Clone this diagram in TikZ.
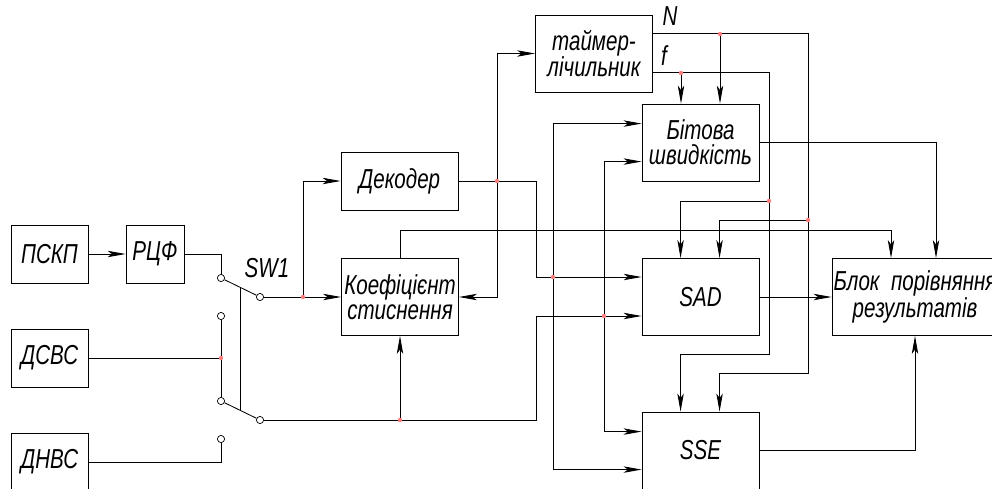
\documentclass[tikz,border=0pt]{standalone}
\usepackage{fontspec}
\newfontfamily\gost{Liberation Sans}[FakeStretch=0.75]
\usetikzlibrary{arrows.meta,calc}
\definecolor{juncred}{RGB}{255,125,125}

\begin{document}
\begin{tikzpicture}[
    x=0.025cm, y=-0.025cm,
    every node/.style={font=\gost\itshape\fontsize{19.5}{18}\selectfont},
    blk/.style={draw, line width=0.6pt, align=center, inner sep=0pt,
        minimum width=2.925cm, minimum height=1.925cm},
    smallblk/.style={blk, minimum width=1.925cm, minimum height=1.45cm},
    contact/.style={circle, draw, fill=white, inner sep=0pt, minimum size=0.18cm, line width=0.5pt},
    wire/.style={line width=0.6pt},
    arr/.style={wire, -{Stealth[length=4.5mm,width=1.6mm,inset=1.1mm]}}
]
\useasboundingbox (0,0) rectangle (992,488);
\clip (0,0) rectangle (992,488);

\node[smallblk] (pskp) at (49.5,254) {ПСКП};
\node[smallblk, minimum width=1.45cm] (rcf) at (155,254) {РЦФ};
\node[smallblk] (dsvs) at (49.5,358) {ДСВС};
\node[smallblk] (dnvs) at (49.5,462) {ДНВС};

\node[contact] (s1) at (221,278) {};
\node[contact] (s2) at (221,316) {};
\node[contact] (s3) at (221,401) {};
\node[contact] (s4) at (221,439) {};
\node[contact] (sa) at (260,297) {};
\node[contact] (sb) at (260,420) {};
\node (sw) at (267,268) {SW1};

\node[blk, minimum height=1.45cm] (dec) at (399.5,181) {Декодер};
\node[blk] (kst) at (400,297) {Коефіцієнт\\стиснення};
\node[blk] (tim) at (594,53.5) {таймер-\\лічильник};
\node[blk] (bit) at (700.5,142.5) {Бітова\\швидкість};
\node[blk] (sad) at (700.5,297) {SAD};
\node[blk] (sse) at (700.5,450.5) {SSE};
\node[blk, minimum width=4.15cm] (blok) at (915,297) {Блок~ порівняння\\результатів};
\node (lN) at (670,16) {N};
\node (lf) at (664,56) {f};

\coordinate (jd) at (221,358);
\coordinate (j1) at (303,297);
\coordinate (j2) at (400,420);
\coordinate (j3) at (497,181);
\coordinate (j4) at (553,277);
\coordinate (j5) at (604,316);
\coordinate (jn1) at (720,34);
\coordinate (jn2) at (808,220);
\coordinate (jf1) at (681,73);
\coordinate (jf2) at (769,201);
\coordinate (k1) at (536,316);
\coordinate (k2) at (536,277);
\coordinate (t1) at (891,230);
\coordinate (t2) at (936,142.5);
\coordinate (cn) at (808,373);
\coordinate (cf) at (769,354);
\path (bit.north west) ++(0,20) coordinate (bi1) ++(0,38) coordinate (bi2);
\path (sse.north west) ++(0,20) coordinate (si1) ++(0,38) coordinate (si2);
\path (bit.north west) ++(39,0) coordinate (bt1) ++(39,0) coordinate (bt2);
\path (tim.north east) ++(0,19) coordinate (tn) ++(0,39) coordinate (tf);

\draw[arr] (pskp) -- (rcf);
\draw[wire] (rcf.east) -| (s1);
\draw[wire] (dsvs.east) -- (jd);
\draw[wire] (s2) -- (s3);
\draw[wire] (dnvs.east) -| (s4);
\draw[wire] (s1) -- (sa);
\draw[wire] (s3) -- (sb);
\draw[wire] ($(s1)!0.5!(sa)$) -- ($(s3)!0.5!(sb)$);

\draw[arr] (sa) -- (kst.west);
\draw[arr] (j1) |- (dec.west);
\draw[arr] (sb) -| (k1) -- (sad.west |- k1);
\draw[arr] (j2) -- (kst.south);
\draw[arr] (kst.north) |- (t1) -- (blok.north -| t1);
\draw[arr] (dec.east) -| (k2) -- (sad.west |- k2);
\draw[arr] (j3) |- (tim.west);
\draw[arr] (j3) |- (kst.east);
\draw[arr] (j4) |- (bi1);
\draw[arr] (j4) |- (si2);
\draw[arr] (j5) |- (bi2);
\draw[arr] (j5) |- (si1);

\draw[arr] (tn) -| (cn) -| (sse.north -| bt2);
\draw[arr] (jn1) -- (bit.north -| jn1);
\draw[arr] (jn2) -| (sad.north -| bt2);
\draw[arr] (tf) -| (cf) -| (sse.north -| bt1);
\draw[arr] (jf1) -- (bit.north -| jf1);
\draw[arr] (jf2) -| (sad.north -| bt1);

\draw[arr] (bit.east) -| (t2) -- (blok.north -| t2);
\draw[arr] (sad) -- (blok);
\draw[arr] (sse.east) -| (blok.south);

\foreach \j in {jd,j1,j2,j3,j4,j5,jn1,jn2,jf1,jf2}
    \fill[juncred] (\j) circle (0.055cm);
\end{tikzpicture}
\end{document}
